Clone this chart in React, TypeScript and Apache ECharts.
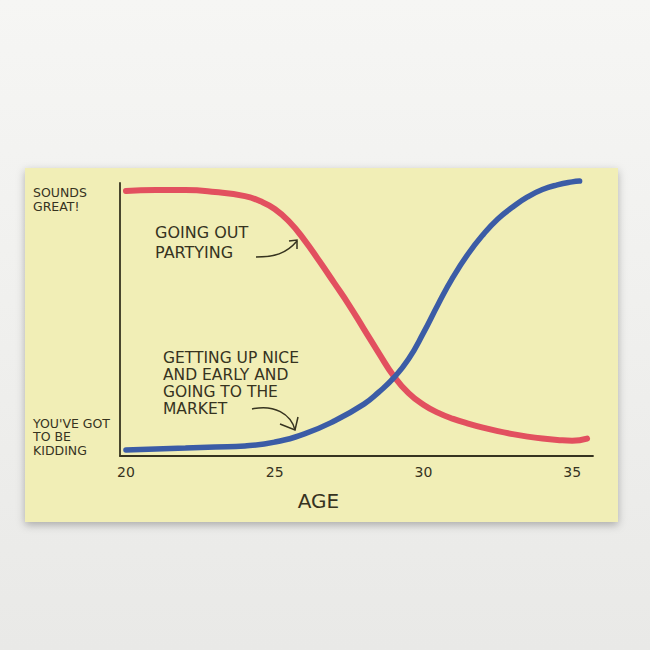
import React, { useEffect, useRef } from "react";
import * as echarts from "echarts";

// Ages sampled along each hand-drawn curve
const PARTY_AGES = [20, 21, 22, 23, 24, 24.5, 25, 25.5, 26, 26.5, 27, 27.5, 28, 28.5, 29, 29.5, 30, 30.5, 31, 31.5, 32, 32.5, 33, 33.5, 34, 34.5, 35, 35.5];
// "Going out partying" enthusiasm (0 = you've got to be kidding, 100 = sounds great)
const PARTY_VALUES = [97.1, 97.4, 97.4, 96.7, 95.2, 93.4, 90.5, 85.7, 79.1, 71.4, 63.4, 55.3, 46.5, 37.7, 29.3, 23.0, 18.8, 15.8, 13.6, 11.9, 10.4, 9.1, 8.0, 7.1, 6.4, 5.9, 5.6, 6.4];

const MARKET_AGES = [20, 21, 22, 23, 24, 25, 26, 27, 28, 28.5, 29, 29.5, 30, 30.5, 31, 31.5, 32, 32.5, 33, 33.5, 34, 34.5, 35, 35.25];
// "Getting up nice and early and going to the market"
const MARKET_VALUES = [2.2, 2.6, 2.9, 3.3, 3.7, 5.1, 8.1, 12.8, 19.0, 23.4, 28.6, 35.5, 45.1, 55.7, 65.6, 74.0, 81.0, 86.8, 91.2, 94.9, 97.6, 99.3, 100.4, 100.7];

const X_TICKS = [20, 25, 30, 35];
const Y_TICKS = [7, 94];
const Y_TICK_LABELS: Record<number, string> = {
  7: "YOU'VE GOT\nTO BE\nKIDDING",
  94: "SOUNDS\nGREAT!",
};

const INK = "#36331f";
const FONT = "DejaVu Sans";

export default function App() {
  const ref = useRef<HTMLDivElement>(null);

  useEffect(() => {
    if (!ref.current) return;
    const chart = echarts.init(ref.current, undefined, { renderer: "svg" });
    const zip = (xs: number[], ys: number[]) => xs.map((x, i) => [x, ys[i]]);

    chart.setOption({
      animation: false,
      backgroundColor: {
        type: "linear",
        x: 0,
        y: 0,
        x2: 0,
        y2: 1,
        colorStops: [
          { offset: 0, color: "#f6f6f4" },
          { offset: 1, color: "#e9e9e7" },
        ],
      },
      grid: { left: 120, top: 183, right: 57, bottom: 194, containLabel: false },
      xAxis: {
        type: "value",
        min: 19.8,
        max: 35.7,
        name: "AGE",
        nameLocation: "middle",
        nameGap: 35,
        nameTextStyle: {
          fontFamily: FONT,
          fontSize: 20,
          color: INK,
          padding: [0, 76, 0, 0],
        },
        axisLine: { show: true, lineStyle: { color: INK, width: 1.8 } },
        axisTick: { show: false },
        splitLine: { show: false },
        axisLabel: {
          customValues: X_TICKS,
          margin: 9,
          fontFamily: FONT,
          fontSize: 14,
          color: INK,
        },
      },
      yAxis: {
        type: "value",
        min: 0,
        max: 100,
        axisLine: { show: true, lineStyle: { color: INK, width: 1.8 } },
        axisTick: { show: false },
        splitLine: { show: false },
        axisLabel: {
          customValues: Y_TICKS,
          formatter: (v: number) => Y_TICK_LABELS[v] ?? "",
          align: "left",
          margin: 87,
          fontFamily: FONT,
          fontSize: 12.5,
          lineHeight: 13.5,
          color: INK,
        },
      },
      series: [
        {
          name: "Going out partying",
          type: "line",
          data: zip(PARTY_AGES, PARTY_VALUES),
          smooth: 0.5,
          symbol: "none",
          clip: false,
          lineStyle: { color: "#e2505f", width: 6, cap: "round" },
          z: 3,
        },
        {
          name: "Getting up nice and early and going to the market",
          type: "line",
          data: zip(MARKET_AGES, MARKET_VALUES),
          smooth: 0.5,
          symbol: "none",
          clip: false,
          lineStyle: { color: "#3b5ca6", width: 5.5, cap: "round" },
          z: 4,
        },
      ],
      graphic: [
        {
          type: "rect",
          z: -10,
          shape: { x: 25, y: 168, width: 593, height: 354 },
          style: {
            fill: "#f1eeb6",
            shadowBlur: 8,
            shadowOffsetY: 3,
            shadowColor: "rgba(0,0,0,0.28)",
          },
        },
        {
          type: "text",
          x: 155,
          y: 222,
          style: {
            text: "GOING OUT\nPARTYING",
            fontFamily: FONT,
            fontSize: 16,
            lineHeight: 20,
            fill: INK,
          },
        },
        {
          type: "bezierCurve",
          shape: { x1: 256, y1: 257, cpx1: 274, cpy1: 257, cpx2: 286, cpy2: 254, x2: 297, y2: 241 },
          style: { stroke: INK, lineWidth: 1.5, fill: "none" },
        },
        {
          type: "polyline",
          shape: { points: [[289, 241], [297, 240], [297, 249]] },
          style: { stroke: INK, lineWidth: 1.5, fill: "none" },
        },
        {
          type: "text",
          x: 163,
          y: 349,
          style: {
            text: "GETTING UP NICE\nAND EARLY AND\nGOING TO THE\nMARKET",
            fontFamily: FONT,
            fontSize: 15.5,
            lineHeight: 17,
            fill: INK,
          },
        },
        {
          type: "bezierCurve",
          shape: { x1: 252, y1: 409, cpx1: 274, cpy1: 404, cpx2: 291, cpy2: 414, x2: 295, y2: 430 },
          style: { stroke: INK, lineWidth: 1.5, fill: "none" },
        },
        {
          type: "polyline",
          shape: { points: [[280, 424], [295, 430], [298, 417]] },
          style: { stroke: INK, lineWidth: 1.5, fill: "none" },
        },
      ],
    });

    return () => chart.dispose();
  }, []);

  return (
    <div
      ref={ref}
      style={{ position: "fixed", left: 0, top: 0, width: 650, height: 650 }}
    />
  );
}
